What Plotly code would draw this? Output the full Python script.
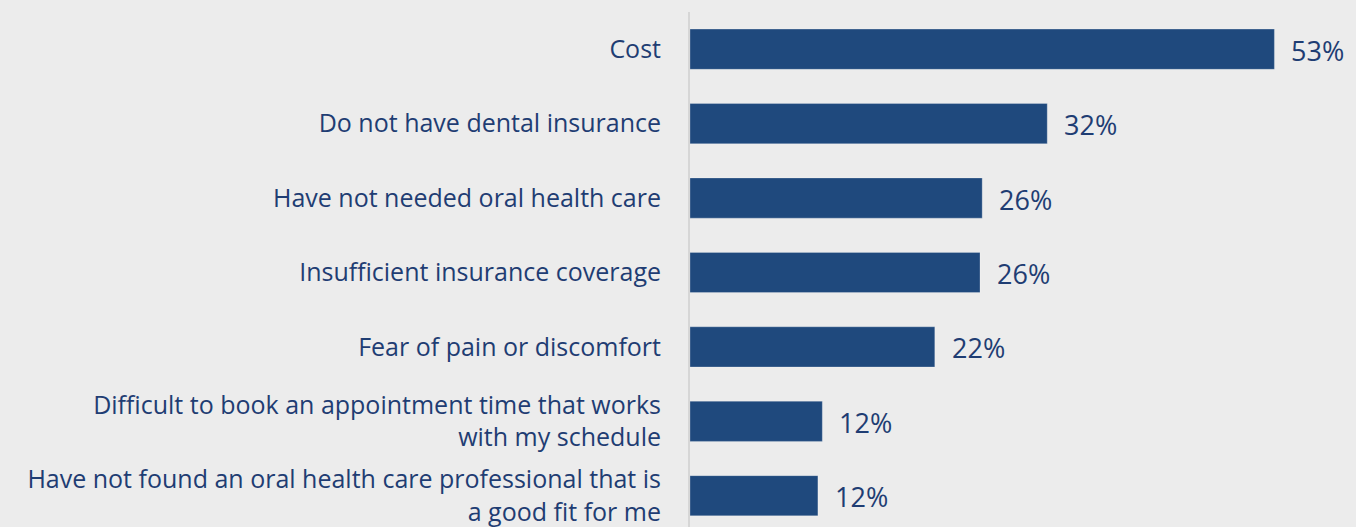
import plotly.graph_objects as go

categories = [
    "Cost",
    "Do not have dental insurance",
    "Have not needed oral health care",
    "Insufficient insurance coverage",
    "Fear of pain or discomfort",
    "Difficult to book an appointment time that works<br>with my schedule",
    "Have not found an oral health care professional that is<br>a good fit for me",
]
values = [53.0, 32.4, 26.5, 26.3, 22.2, 12.0, 11.6]
value_labels = ["53%", "32%", "26%", "26%", "22%", "12%", "12%"]

BG = "#ececec"
BAR = "#1f497d"
TXT = "#1f3d73"

fig = go.Figure()
fig.add_trace(go.Bar(
    x=values, y=categories, orientation="h",
    width=0.54,
    marker=dict(color=BAR, line=dict(color="rgba(255,255,255,0.25)", width=1)),
    hoverinfo="skip",
))

for v, c, t in zip(values, categories, value_labels):
    fig.add_annotation(x=v, y=c, text=t, xanchor="left", yanchor="middle",
                       xshift=15, yshift=-1, showarrow=False,
                       font=dict(family="Open Sans", size=27, color=TXT))

fig.update_layout(
    width=1356, height=527,
    margin=dict(l=690, r=0, t=12, b=0),
    paper_bgcolor=BG, plot_bgcolor=BG,
    showlegend=False,
    bargap=0.46,
    font=dict(family="Open Sans", color=TXT),
)
fig.update_xaxes(range=[0, 60.4], showgrid=False, zeroline=False,
                 showticklabels=False, showline=False, fixedrange=True)
fig.update_yaxes(type="category", categoryorder="array", categoryarray=categories,
                 range=[6.42, -0.5], showgrid=False, zeroline=False,
                 showline=True, linecolor="#d6d6d6", linewidth=2,
                 ticks="", ticklabelstandoff=22,
                 tickfont=dict(family="Open Sans", size=25, color=TXT))

fig.write_html("out.html")
